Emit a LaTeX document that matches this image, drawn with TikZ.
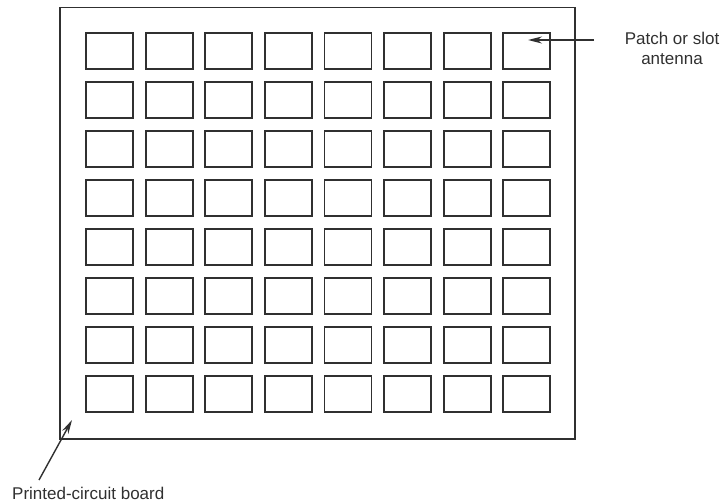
\documentclass[tikz,border=0pt]{standalone}
\usepackage{fontspec}
\setmainfont{Liberation Sans}
\usepackage{tikz}
\usetikzlibrary{arrows.meta,positioning}
\definecolor{ink}{HTML}{303030}
\tikzset{arr/.style={-{Stealth[length=14pt,width=7pt]},draw=ink,line width=1.4pt},note/.style={font=\fontsize{17}{20}\selectfont,align=center,text=ink,inner sep=0pt}}
\begin{document}
\begin{tikzpicture}[x=1pt,y=-1pt,
patch/.style={draw=ink,line width=1.8pt,minimum width=47pt,minimum height=36pt,inner sep=0pt},
board/.style={draw=ink,line width=1.8pt}]
\useasboundingbox (0,0) rectangle (722,503);
\draw[board] (60,7.5) rectangle (575,439);
\foreach \r in {1,...,8}{
  \foreach \c in {1,...,8}{
    \node[patch] (p-\r-\c) at ({109.5+59.6*(\c-1)},{51+49*(\r-1)}) {};
  }
}
\node[note] (lblpatch) at (672,48) {Patch or slot\\antenna};
\coordinate (tailA) at (594,40);
\coordinate (tipA) at (528,40);
\draw[arr] (tailA)--(tipA);
\node[note,anchor=west] (lblboard) at (12,493) {Printed-circuit board};
\coordinate (tailB) at (39,480);
\coordinate (tipB) at (72,420);
\draw[arr] (tailB)--(tipB);
\end{tikzpicture}
\end{document}
